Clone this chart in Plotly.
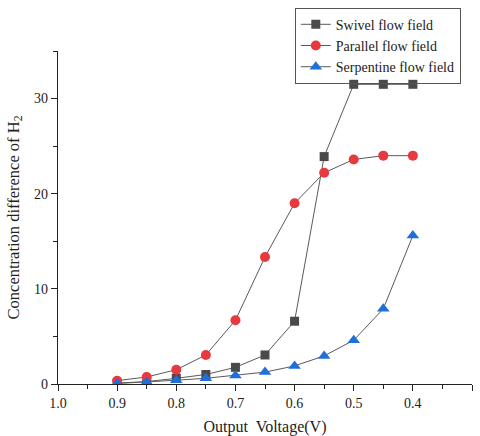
import plotly.graph_objects as go

voltage = [0.9, 0.85, 0.8, 0.75, 0.7, 0.65, 0.6, 0.55, 0.5, 0.45, 0.4]
swivel = [0.1, 0.25, 0.6, 1.0, 1.75, 3.05, 6.6, 23.9, 31.5, 31.5, 31.5]
parallel = [0.35, 0.74, 1.5, 3.05, 6.7, 13.35, 19.0, 22.2, 23.6, 24.0, 24.0]
serpentine = [0.05, 0.2, 0.4, 0.6, 0.9, 1.25, 1.9, 2.95, 4.6, 7.9, 15.6]
names = ["Swivel flow field", "Parallel flow field", "Serpentine flow field"]
x_ticks = [1.0, 0.9, 0.8, 0.7, 0.6, 0.5, 0.4, 0.3]
y_ticks = [0, 10, 20, 30]

FONT = "Liberation Serif, Times New Roman, serif"
line_col = "#5a5a5a"

fig = go.Figure()
series = [(swivel, "square", "#4a4a4a", 9), (parallel, "circle", "#e8393f", 10), (serpentine, "triangle-up", "#1f6fd8", 11)]
for (vals, sym, col, sz), nm in zip(series, names):
    fig.add_trace(go.Scatter(
        x=voltage, y=vals, name=nm, mode="lines+markers",
        line=dict(color=line_col, width=1),
        marker=dict(symbol=sym, color=col, size=sz, line=dict(width=0)),
    ))

axis_common = dict(
    showline=True, linecolor="#222", linewidth=1.2, showgrid=False, zeroline=False,
    ticks="outside", ticklen=6, tickwidth=1.2, tickcolor="#222", automargin=False,
    tickfont=dict(family=FONT, size=14, color="#222"),
)
fig.update_xaxes(
    range=[1.0, 0.3], tickvals=x_ticks, ticktext=["%.1f" % v for v in x_ticks],
    minor=dict(ticks="outside", ticklen=4, tickwidth=1.2, tickcolor="#222", dtick=0.05, tick0=0),
    title=dict(text="Output  Voltage(V)", font=dict(family=FONT, size=16, color="#222"), standoff=10),
    **axis_common,
)
fig.update_yaxes(
    range=[0, 35], tickvals=y_ticks,
    minor=dict(ticks="outside", ticklen=4, tickwidth=1.2, tickcolor="#222", dtick=5, tick0=0),
    title=dict(text="Concentration difference of H<sub>2</sub>", font=dict(family=FONT, size=16.5, color="#222"), standoff=10),
    **axis_common,
)
fig.update_layout(
    width=480, height=436,
    margin=dict(l=58, r=8, t=51, b=52),
    paper_bgcolor="white", plot_bgcolor="white",
    font=dict(family=FONT, color="#222"),
    showlegend=True,
    legend=dict(
        x=0.572, y=1.13, xanchor="left", yanchor="top",
        bordercolor="#555", borderwidth=1, bgcolor="rgba(255,255,255,0)",
        font=dict(family=FONT, size=14, color="#222"),
        itemwidth=30, tracegroupgap=0,
    ),
)
fig.write_html("out.html")
